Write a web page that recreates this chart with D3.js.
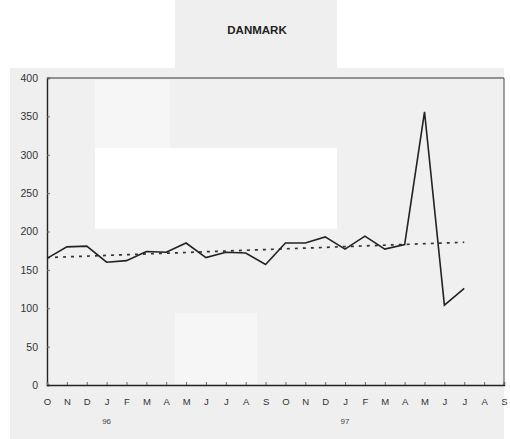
<!DOCTYPE html>
<html><head><meta charset="utf-8">
<script src="https://cdn.jsdelivr.net/npm/d3@7/dist/d3.min.js"></script>
<style>html,body{margin:0;padding:0;background:#fff;}svg{display:block;}</style>
</head><body>
<svg id="c" width="510" height="439"></svg>
<script>
const title = "DANMARK";
const months = ["O","N","D","J","F","M","A","M","J","J","A","S","O","N","D","J","F","M","A","M","J","J","A","S"];
const yearLabels = [{idx:3, text:"96"}, {idx:15, text:"97"}];
const values = [165,180,181,160,162,174,173,185,166,173,172,157,185,185,193,177,194,177,183,356,104,126];
const trendIdx = [0, 21];
const trendVals = [166, 186];
const yTicks = [0,50,100,150,200,250,300,350,400];

(function(){
const svg = d3.select("#c");
svg.append("rect").attr("x",10).attr("y",68).attr("width",494).attr("height",371).attr("fill","#efefef");
svg.append("rect").attr("x",175).attr("y",0).attr("width",162).attr("height",68).attr("fill","#efefef");

const pl=47, pr=504, pt=78, pb=385;
const x = d3.scalePoint().domain(d3.range(months.length)).range([pl,pr]);
const y = d3.scaleLinear().domain([0,400]).range([pb,pt]);

svg.append("rect").attr("x",pl).attr("y",pt).attr("width",pr-pl).attr("height",pb-pt).attr("fill","#f0f0f0");
svg.append("rect").attr("x",95).attr("y",80).attr("width",75).attr("height",68).attr("fill","#f6f6f6");
svg.append("rect").attr("x",95).attr("y",148).attr("width",242).attr("height",81).attr("fill","#ffffff");
svg.append("rect").attr("x",175).attr("y",313).attr("width",82).attr("height",71).attr("fill","#f6f6f6");

svg.append("line").attr("x1",pl).attr("x2",pr).attr("y1",pt).attr("y2",pt).attr("stroke","#333").attr("stroke-width",1);
svg.append("line").attr("x1",pr).attr("x2",pr).attr("y1",pt).attr("y2",pb).attr("stroke","#444").attr("stroke-width",1);

const ff = "Liberation Sans, Arial, sans-serif";
const yAxis = d3.axisLeft(y).tickValues(yTicks).tickSize(-3).tickPadding(9);
const gy = svg.append("g").attr("transform",`translate(${pl},0)`).call(yAxis);
gy.select(".domain").attr("stroke","#222").attr("stroke-width",1.4);
gy.selectAll(".tick line").attr("stroke","#666");
gy.selectAll("text").attr("font-family",ff).attr("font-size",10.5).attr("fill","#333");

const xAxis = d3.axisBottom(x).tickFormat(i=>months[i]).tickSize(-3).tickPadding(13);
const gx = svg.append("g").attr("transform",`translate(0,${pb})`).call(xAxis);
gx.select(".domain").attr("stroke","#222").attr("stroke-width",1.4);
gx.selectAll(".tick line").attr("stroke","#666");
gx.selectAll("text").attr("font-family",ff).attr("font-size",9.5).attr("fill","#333");

svg.selectAll(".yr").data(yearLabels).enter().append("text")
  .attr("x",d=>x(d.idx)).attr("y",424).attr("text-anchor","middle")
  .attr("font-family",ff).attr("font-size",8).attr("fill","#444").text(d=>d.text);

const trend = trendIdx.map((t,k)=>({i:t,v:trendVals[k]}));
svg.append("path").datum(trend)
  .attr("d",d3.line().x(d=>x(d.i)).y(d=>y(d.v)))
  .attr("fill","none").attr("stroke","#333").attr("stroke-width",1.7).attr("stroke-dasharray","3,5");

svg.append("path").datum(values)
  .attr("d",d3.line().x((d,i)=>x(i)).y(d=>y(d)))
  .attr("fill","none").attr("stroke","#222").attr("stroke-width",1.6);

svg.append("text").attr("x",257).attr("y",34).attr("text-anchor","middle")
  .attr("font-family",ff).attr("font-weight","bold").attr("font-size",11.5).attr("fill","#222").text(title);
})();
</script>
</body></html>
